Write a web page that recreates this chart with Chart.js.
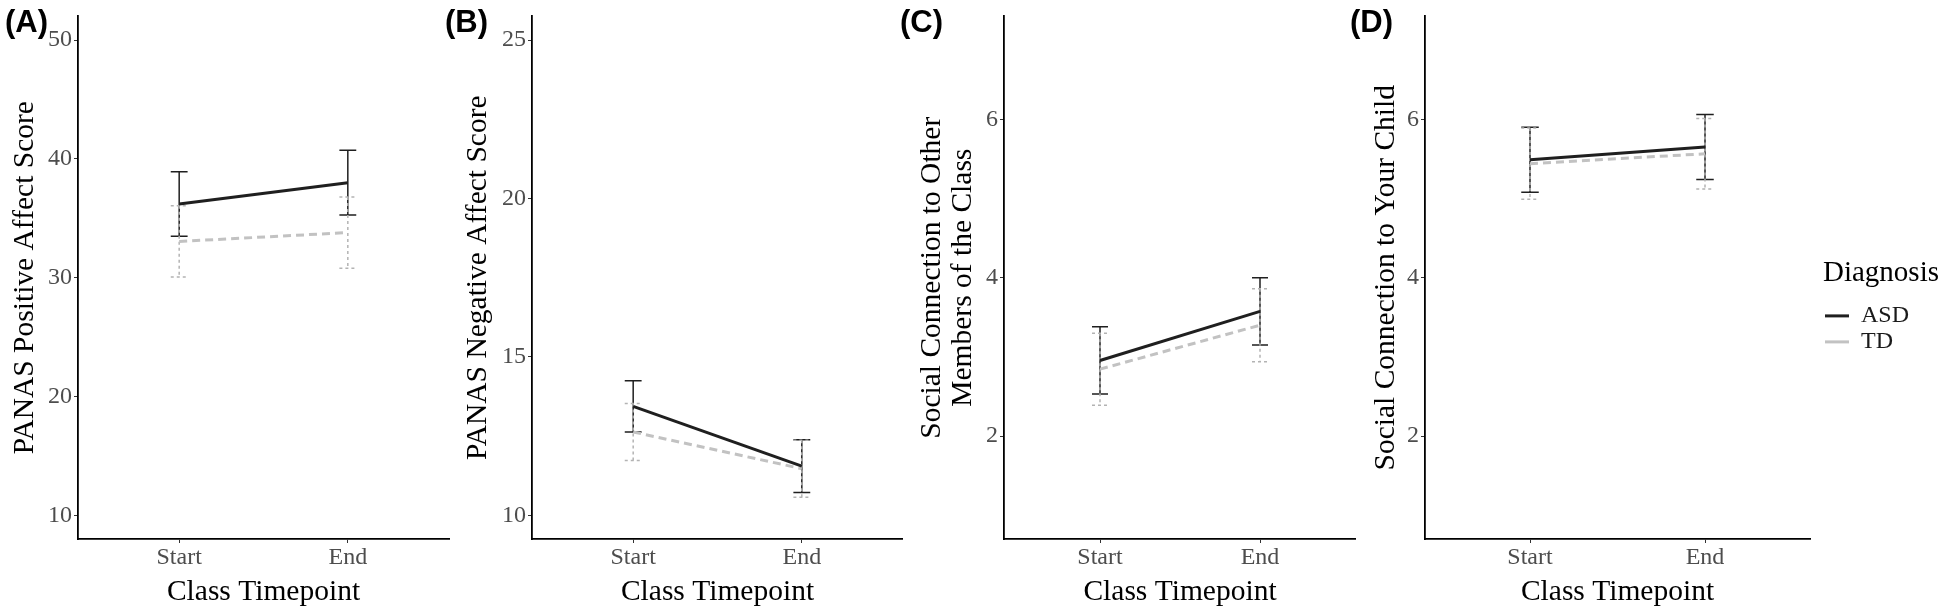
<!DOCTYPE html>
<html>
<head>
<meta charset="utf-8">
<script src="https://cdn.jsdelivr.net/npm/chart.js@4.4.1/dist/chart.umd.min.js"></script>
<style>
  body { margin: 0; background: #fff; width: 1949px; height: 609px; overflow: hidden; position: relative; }
  canvas { position: absolute; top: 0; }
  .tag { position: absolute; top: 6px; font: bold 31px 'Liberation Sans', Arial, sans-serif; line-height: 31px; color: #000; z-index: 2; }
</style>
</head>
<body>
<div class="tag" style="left:5px">(A)</div>
<div class="tag" style="left:445px">(B)</div>
<div class="tag" style="left:900px">(C)</div>
<div class="tag" style="left:1350px">(D)</div>
<canvas id="chartA" width="450" height="609" style="left:0px"></canvas>
<canvas id="chartB" width="453" height="609" style="left:450px"></canvas>
<canvas id="chartC" width="451" height="609" style="left:905px"></canvas>
<canvas id="chartD" width="589" height="609" style="left:1360px"></canvas>
<script>
const timepoints = ['Start', 'End'];
const groups = ['ASD', 'TD'];

// (A) PANAS positive affect
const posAsdMean = [36.2, 38.0];
const posAsdSe = [2.72, 2.73];
const posTdMean = [33.05, 33.8];
const posTdSe = [3.0, 3.0];
const posTicks = [10, 20, 30, 40, 50];

// (B) PANAS negative affect
const negAsdMean = [13.44, 11.55];
const negAsdSe = [0.81, 0.83];
const negTdMean = [12.63, 11.47];
const negTdSe = [0.9, 0.9];
const negTicks = [10, 15, 20, 25];

// (C) connection to other class members
const classAsdMean = [2.955, 3.575];
const classAsdSe = [0.425, 0.425];
const classTdMean = [2.845, 3.4];
const classTdSe = [0.455, 0.46];
const classTicks = [2, 4, 6];

// (D) connection to your child
const childAsdMean = [5.49, 5.65];
const childAsdSe = [0.41, 0.41];
const childTdMean = [5.44, 5.565];
const childTdSe = [0.45, 0.445];
const childTicks = [2, 4, 6];

const serif = "'Liberation Serif', 'Times New Roman', serif";
const capW = 0.1;

function errorData(means, ses) {
  const pts = [];
  means.forEach((m, i) => {
    const x = i + 1, hi = m + ses[i], lo = m - ses[i];
    pts.push({x: x - capW / 2, y: hi}, {x: x + capW / 2, y: hi}, {x: x, y: null},
             {x: x, y: hi}, {x: x, y: lo}, {x: x, y: null},
             {x: x - capW / 2, y: lo}, {x: x + capW / 2, y: lo}, {x: x, y: null});
  });
  return pts;
}

function meanData(means) {
  return means.map((m, i) => ({x: i + 1, y: m}));
}

const axisGrid = {display: true, drawOnChartArea: false, drawTicks: true, tickLength: 4, tickColor: '#333', tickWidth: 1};
const axisBorder = {display: true, color: '#000', width: 1.8};

// the legend box only measures its items, so widen it enough for the "Diagnosis" title
const legendWidth = {
  id: 'legendWidth',
  beforeLayout(chart, args, opts) {
    const lg = chart.legend;
    if (!lg || lg._widened) return;
    const fit = lg.fit.bind(lg);
    lg.fit = function () { fit(); this.width = Math.max(this.width, opts.minWidth || 0); };
    lg._widened = true;
  }
};

function makeChart(id, p) {
  const datasets = [
    {label: 'ASD', data: meanData(p.asdMean), borderColor: '#1f1f1f', borderWidth: 3, order: 0},
    {label: 'TD', data: meanData(p.tdMean), borderColor: '#c2c2c2', borderWidth: 3, borderDash: [8, 5], order: 1},
    {label: 'TD err', data: errorData(p.tdMean, p.tdSe), borderColor: '#b3b3b3', borderWidth: 1.5, borderDash: [3, 3], order: 2},
    {label: 'ASD err', data: errorData(p.asdMean, p.asdSe), borderColor: '#1f1f1f', borderWidth: 1.5, order: 3}
  ];
  datasets.forEach(d => { d.pointRadius = 0; d.fill = false; d.spanGaps = false; d.tension = 0; d.pointStyle = 'line'; });

  const scales = {
    x: {
      type: 'linear', min: 0.4, max: 2.6,
      afterBuildTicks: s => { s.ticks = timepoints.map((t, i) => ({value: i + 1})); },
      ticks: {callback: v => timepoints[v - 1], font: {family: serif, size: 24}, color: '#4d4d4d', padding: 0, maxRotation: 0},
      grid: axisGrid, border: axisBorder,
      title: {display: true, text: 'Class Timepoint', font: {family: serif, size: 29.5, lineHeight: 1.07}, color: '#000', padding: {top: 0, bottom: 1}},
      afterFit: s => { s.height = 70; }
    },
    y: {
      type: 'linear', min: p.min, max: p.max,
      afterBuildTicks: s => { s.ticks = p.ticks.map(v => ({value: v})); },
      ticks: {font: {family: serif, size: 24}, color: '#4d4d4d', padding: 2},
      grid: axisGrid, border: axisBorder,
      title: {display: true, text: p.title, font: {family: serif, size: 29.5, lineHeight: 1.07}, color: '#000', padding: {top: p.titlePad, bottom: 0}},
      afterFit: s => { s.width = p.yWidth; }
    }
  };
  if (p.legend) {
    // empty spacer between the panel and the legend
    scales.gap = {
      type: 'linear', position: 'right', display: true,
      ticks: {display: false}, grid: {display: false, drawTicks: false}, border: {display: false},
      afterFit: s => { s.width = 13; }
    };
  }

  return new Chart(document.getElementById(id), {
    type: 'line',
    data: {datasets},
    plugins: p.legend ? [legendWidth] : [],
    options: {
      responsive: false,
      animation: false,
      layout: {padding: {top: 12, left: 0, right: p.padRight, bottom: 0}},
      scales,
      plugins: {
        tooltip: {enabled: false},
        legendWidth: {minWidth: 126},
        legend: p.legend ? {
          display: true, position: 'right',
          labels: {
            usePointStyle: true, pointStyle: 'line', pointStyleWidth: 24, padding: 2,
            font: {family: serif, size: 24}, color: '#1a1a1a',
            filter: item => groups.includes(item.text)
          },
          title: {display: true, text: 'Diagnosis', position: 'start', font: {family: serif, size: 29}, color: '#000', padding: {top: -6, bottom: 8}}
        } : {display: false}
      }
    }
  });
}

makeChart('chartA', {asdMean: posAsdMean, asdSe: posAsdSe, tdMean: posTdMean, tdSe: posTdSe,
  ticks: posTicks, min: 8, max: 52, title: 'PANAS Positive Affect Score', titlePad: 9, yWidth: 78, padRight: 1});
makeChart('chartB', {asdMean: negAsdMean, asdSe: negAsdSe, tdMean: negTdMean, tdSe: negTdSe,
  ticks: negTicks, min: 9.25, max: 25.75, title: 'PANAS Negative Affect Score', titlePad: 12, yWidth: 82, padRight: 0});
makeChart('chartC', {asdMean: classAsdMean, asdSe: classAsdSe, tdMean: classTdMean, tdSe: classTdSe,
  ticks: classTicks, min: 0.7, max: 7.3, title: ['Social Connection to Other', 'Members of the Class'], titlePad: 11, yWidth: 99, padRight: 0});
makeChart('chartD', {asdMean: childAsdMean, asdSe: childAsdSe, tdMean: childTdMean, tdSe: childTdSe,
  ticks: childTicks, min: 0.7, max: 7.3, title: 'Social Connection to Your Child', titlePad: 10, yWidth: 65, padRight: 0, legend: true});
</script>
</body>
</html>
